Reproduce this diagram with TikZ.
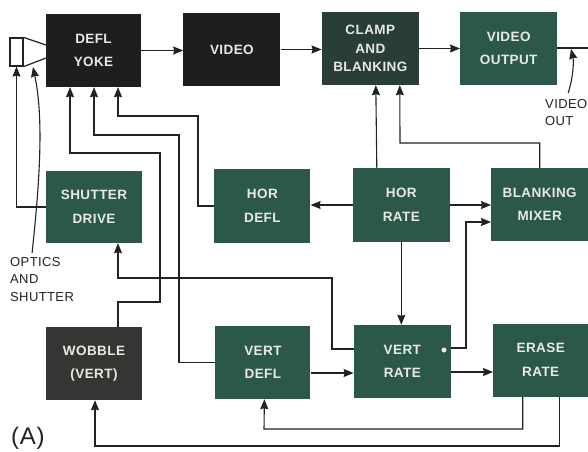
\documentclass[tikz,border=0pt]{standalone}
\usepackage{xcolor}
\usepackage{fontspec}
\setmainfont[LetterSpace=3]{Liberation Sans}
\usetikzlibrary{arrows.meta, positioning}
\definecolor{crtdark}{RGB}{30,30,30}
\definecolor{crtgrey}{RGB}{52,54,52}
\definecolor{crtmix}{RGB}{40,62,54}
\definecolor{crtgreen}{RGB}{44,88,74}
\definecolor{crttext}{RGB}{232,234,226}
\definecolor{crtline}{RGB}{30,36,34}

\begin{document}
\begin{tikzpicture}[x=1pt, y=-1pt,
  block/.style={rectangle, text=crttext, minimum width=97pt, minimum height=73pt, inner sep=0pt, align=center, font=\fontsize{13.5}{23.5}\selectfont\bfseries},
  darkblock/.style={block, fill=crtdark},
  greyblock/.style={block, fill=crtgrey},
  mixblock/.style={block, fill=crtmix},
  greenblock/.style={block, fill=crtgreen},
  lab/.style={align=left, inner sep=0pt, text=crtline, font=\fontsize{13}{17.5}\selectfont},
  arr/.style={-{Stealth[length=10pt, width=8pt, inset=1pt]}, line width=1.1pt, draw=crtline},
  wire/.style={line width=1.1pt, draw=crtline}
]
\useasboundingbox (0,0) rectangle (588,451);
\fill[white] (0,0) rectangle (588,451);
% top row
\node[darkblock, minimum width=95pt] (yoke) at (93.5,50.5) {DEFL\\YOKE};
\node[darkblock, right=42pt of yoke, yshift=1pt] (video) {VIDEO};
\node[mixblock, right=41pt of video, yshift=1pt, font=\fontsize{13.5}{18.5}\selectfont\bfseries] (clamp) {CLAMP\\AND\\BLANKING};
\node[greenblock, right=41pt of clamp] (output) {VIDEO\\OUTPUT};
% middle row
\node[greenblock, minimum width=96pt, minimum height=72pt] (shutter) at (94,207) {SHUTTER\\DRIVE};
\node[greenblock, right=72pt of shutter, minimum width=96pt, minimum height=74pt, yshift=1pt] (hordefl) {HOR\\DEFL};
\node[greenblock, right=42pt of hordefl, yshift=1pt, minimum height=74pt] (horrate) {HOR\\RATE};
\node[greenblock, right=41pt of horrate, yshift=0.5pt] (mixer) {BLANKING\\MIXER};
% bottom row
\node[greyblock, minimum width=96pt] (wobble) at (94,363.5) {WOBBLE\\(VERT)};
\node[greenblock, right=73pt of wobble, minimum width=95pt, yshift=1pt] (vertdefl) {VERT\\DEFL};
\node[greenblock, right=43pt of vertdefl, yshift=1pt] (vertrate) {VERT\\RATE};
\node[greenblock, right=42pt of vertrate, minimum width=95pt, yshift=1.5pt] (erase) {ERASE\\RATE};
\fill[crttext] (444,350) circle (2.5pt);
% tube
\node[draw=crtline, line width=1.2pt, minimum width=13pt, minimum height=28pt, inner sep=0pt] (tube) at (16.5,52) {};
\draw[wire, line width=1.2pt] (tube.north east) -- (46,45);
\draw[wire, line width=1.2pt] (tube.south east) -- (46,58);
% free ends and labels
\coordinate (videoout) at (588,48);
\node[lab, anchor=north west] (optics) at (10,257) {OPTICS\\AND\\SHUTTER};
\node[lab, anchor=north west] (vout) at (545,99) {VIDEO\\OUT};
\node[lab, anchor=south west, font=\fontsize{24}{24}\selectfont] (alabel) at (11,450) {(A)};
% signal path
\draw[arr] (yoke.east) -- (yoke.east -| video.west);
\draw[arr] (video.east) -- (video.east -| clamp.west);
\draw[arr] (clamp.east) -- (output.west);
\draw[wire] (output.east |- videoout) -- (videoout);
\draw[arr] ([shift={(2pt,6pt)}]vout.north) .. controls (573,78) and (574,62) .. (571,49);
% tube feeds
\draw[arr] (shutter.west) -| (tube.south);
\draw[arr] ([shift={(-10pt,4pt)}]optics.north) .. controls (41,170) and (43,115) .. (33,67);
% yoke feeds
\draw[arr] ([xshift=24pt]wobble.north) |- (160,302) |- (70,153) -- ([xshift=-23.5pt]yoke.south);
\draw[arr] (vertdefl.west) -| (179,135) -| ([xshift=0.5pt]yoke.south);
\draw[arr] (hordefl.west) -| (198,116) -| ([xshift=24.5pt]yoke.south);
% rate blocks
\draw[arr] (horrate.west) -- (horrate.west -| hordefl.east);
\draw[arr] ([xshift=-24.5pt]horrate.north) -- ([xshift=5.5pt]clamp.south);
\draw[arr] (horrate.east) -- (horrate.east -| mixer.west);
\draw[arr] (mixer.north) |- (400,143) -- ([xshift=29.5pt]clamp.south);
\draw[arr] (horrate.south) -- (horrate.south |- vertrate.north);
\draw[arr] ([yshift=13.5pt]vertrate.east) -| (466,222) -- ([yshift=-17.5pt]mixer.west);
\draw[arr] ([yshift=12.5pt]vertrate.west) -| (332,278) -| ([xshift=24pt]shutter.south);
\draw[arr] ([yshift=-10.5pt]vertdefl.east) -- ([yshift=-10.5pt]vertdefl.east -| vertrate.west);
\draw[arr] ([yshift=-10.5pt]vertrate.east) -- ([yshift=-10.5pt]vertrate.east -| erase.west);
\draw[arr] ([xshift=-18pt]erase.south) |- (264,429) -- ([xshift=1.5pt]vertdefl.south);
\draw[arr] ([xshift=18.5pt]erase.south) |- (95,446) -- ([xshift=1pt]wobble.south);
\end{tikzpicture}
\end{document}
